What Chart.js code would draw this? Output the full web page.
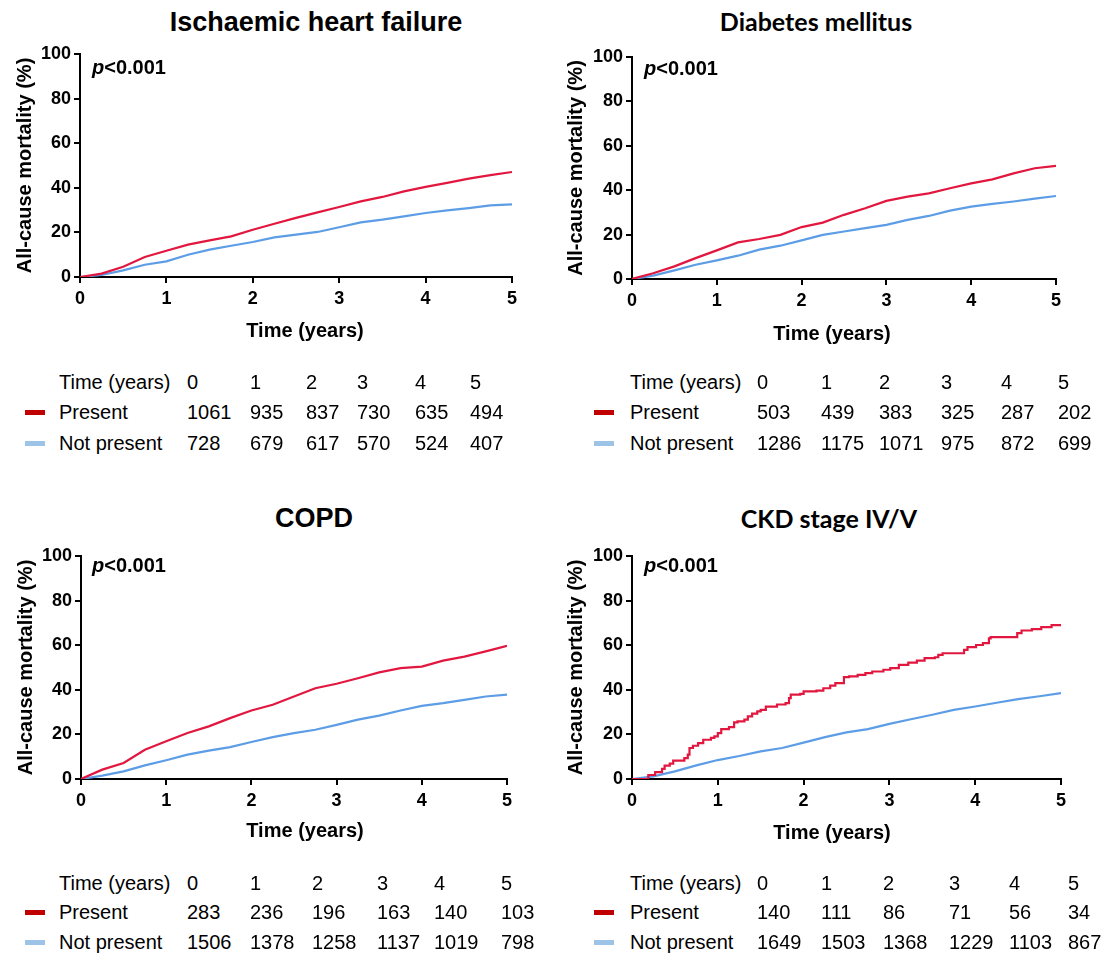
<!DOCTYPE html>
<html>
<head>
<meta charset="utf-8">
<script src="https://cdn.jsdelivr.net/npm/chart.js@4.4.1/dist/chart.umd.min.js"></script>
<style>
  html, body { margin: 0; padding: 0; background: #fff; }
  #page { position: relative; width: 1103px; height: 954px; overflow: hidden;
          font-family: "Liberation Sans", Arial, sans-serif; color: #000; }
  .plot { position: absolute; }
  .title { position: absolute; transform: translate(-50%, -50%); white-space: nowrap;
           font-weight: bold; line-height: 1; }
  .cell { position: absolute; transform: translateY(-50%); white-space: nowrap;
          font-size: 20px; line-height: 1; }
  .key { position: absolute; width: 20px; height: 5px; }
</style>
</head>
<body>
<div id="page"></div>
<script>
// ---- follow-up grid (years) shared by the smooth curves ----
const quarterYears = [0, 0.25, 0.5, 0.75, 1, 1.25, 1.5, 1.75, 2, 2.25, 2.5,
                      2.75, 3, 3.25, 3.5, 3.75, 4, 4.25, 4.5, 4.75, 5];

// ---- cumulative all-cause mortality (%) ----
const ihfPresent    = [0, 1.5, 4.6, 9.0, 11.8, 14.5, 16.4, 18.2, 21.2, 23.9, 26.5,
                       29.0, 31.4, 33.9, 35.9, 38.4, 40.4, 42.2, 44.1, 45.7, 47.1];
const ihfNotPresent = [0, 0.9, 3.0, 5.5, 7.0, 10.0, 12.3, 14.0, 15.7, 17.8, 19.0,
                       20.2, 22.3, 24.5, 25.7, 27.2, 28.7, 29.9, 30.9, 32.1, 32.6];

const dmPresent     = [0, 2.6, 5.7, 9.4, 12.9, 16.5, 18.0, 19.9, 23.4, 25.4, 28.9,
                       31.9, 35.2, 37.1, 38.6, 40.9, 43.1, 44.9, 47.6, 49.9, 51.0];
const dmNotPresent  = [0, 1.5, 3.9, 6.4, 8.4, 10.5, 13.2, 15.0, 17.4, 19.9, 21.4,
                       22.9, 24.4, 26.6, 28.4, 30.8, 32.6, 33.8, 34.9, 36.2, 37.4];

const copdPresent    = [0, 4.2, 7.2, 13.1, 16.9, 20.6, 23.6, 27.3, 30.7, 33.3, 37.0,
                        40.7, 42.7, 45.2, 47.8, 49.7, 50.4, 53.1, 54.9, 57.2, 59.7];
const copdNotPresent = [0, 1.5, 3.4, 6.1, 8.4, 10.9, 12.7, 14.3, 16.6, 18.8, 20.6,
                        22.1, 24.3, 26.6, 28.4, 30.7, 32.8, 34.0, 35.5, 37.0, 37.8];

// CKD IV/V "present" group is small, so its curve keeps its event steps
const ckdPresentYears = [0, 0.12, 0.19, 0.27, 0.35, 0.38, 0.44, 0.48, 0.61, 0.65, 0.67,
                         0.71, 0.77, 0.83, 0.92, 0.96, 1.0, 1.04, 1.13, 1.19, 1.23, 1.31,
                         1.35, 1.40, 1.46, 1.5, 1.56, 1.69, 1.79, 1.83, 1.85, 1.96, 2.0,
                         2.15, 2.23, 2.31, 2.37, 2.47, 2.53, 2.63, 2.72, 2.80, 2.93, 3.01,
                         3.11, 3.22, 3.32, 3.41, 3.53, 3.57, 3.62, 3.87, 3.91, 4.01, 4.09,
                         4.16, 4.18, 4.49, 4.54, 4.66, 4.77, 4.89, 5.0];
const ckdPresent = [0, 0, 1.8, 3.1, 4.5, 6.0, 6.9, 8.2, 9.4, 10.9, 13.9,
                    14.9, 16.1, 17.6, 18.4, 19.1, 20.6, 22.4, 23.3, 25.4, 25.8, 26.6,
                    28.1, 29.3, 30.3, 31.0, 32.5, 33.4, 34.0, 36.3, 37.8, 38.2, 39.3,
                    39.6, 40.7, 41.9, 43.0, 45.7, 46.0, 46.7, 47.5, 48.2, 49.0, 49.7,
                    51.2, 52.2, 53.1, 54.2, 54.6, 55.7, 56.4, 57.9, 59.1, 60.1, 60.9,
                    63.1, 63.6, 65.4, 66.6, 67.2, 68.1, 69.0, 69.1];
const ckdNotPresent = [0, 1.2, 3.4, 6.1, 8.5, 10.3, 12.4, 13.9, 16.3, 18.8, 20.9,
                       22.4, 24.7, 26.8, 28.8, 31.0, 32.5, 34.2, 35.8, 37.1, 38.5];

// ---- numbers at risk ----
const riskYears = ['0', '1', '2', '3', '4', '5'];
const ihfAtRiskPresent     = [1061, 935, 837, 730, 635, 494];
const ihfAtRiskNotPresent  = [728, 679, 617, 570, 524, 407];
const dmAtRiskPresent      = [503, 439, 383, 325, 287, 202];
const dmAtRiskNotPresent   = [1286, 1175, 1071, 975, 872, 699];
const copdAtRiskPresent    = [283, 236, 196, 163, 140, 103];
const copdAtRiskNotPresent = [1506, 1378, 1258, 1137, 1019, 798];
const ckdAtRiskPresent     = [140, 111, 86, 71, 56, 34];
const ckdAtRiskNotPresent  = [1649, 1503, 1368, 1229, 1103, 867];

const pValueText = '<0.001';
const RED = '#E2173F', BLUE = '#5C9DE6';
const KEY_RED = '#C00000', KEY_BLUE = '#9DC3E6';
const ARIAL = '"Liberation Sans", Arial, sans-serif';
const CALIBRI_LIKE = 'Lato, "Open Sans", sans-serif';

const toPoints = (xs, ys) => xs.map((x, i) => ({ x, y: ys[i] }));

// "p<0.001" in the top-left corner of the plotting area
const pValuePlugin = {
  id: 'pValue',
  afterDraw(chart, args, opts) {
    const { ctx, chartArea } = chart;
    ctx.save();
    ctx.fillStyle = '#000';
    ctx.textBaseline = 'middle';
    let x = chartArea.left + opts.dx;
    const y = chartArea.top + opts.dy;
    ctx.font = 'italic bold 20px ' + ARIAL;
    ctx.fillText('p', x, y);
    x += ctx.measureText('p').width;
    ctx.font = 'bold 20px ' + ARIAL;
    ctx.fillText(pValueText, x, y);
    ctx.restore();
  }
};

const panels = [
  { title: 'Ischaemic heart failure', titleFont: ARIAL, titleSize: 27, titleX: 316, titleY: 22,
    left: 0, top: 40, yAxisW: 80, padTop: 14, padRight: 18, xAxisH: 83, yTitlePad: 13,
    xTitleX: 305, xTitleY: 330, pdx: 12, pdy: 14,
    present: toPoints(quarterYears, ihfPresent), notPresent: toPoints(quarterYears, ihfNotPresent), stepped: false,
    riskPresent: ihfAtRiskPresent, riskNotPresent: ihfAtRiskNotPresent,
    keyX: 25, labelX: 59, cols: [187, 250, 306, 357, 415, 470], rows: [382, 412, 443] },
  { title: 'Diabetes mellitus', titleFont: CALIBRI_LIKE, titleSize: 25, titleX: 816, titleY: 21,
    left: 550, top: 40, yAxisW: 82, padTop: 17, padRight: 24, xAxisH: 81, yTitlePad: 14,
    xTitleX: 832, xTitleY: 333, pdx: 12, pdy: 12,
    present: toPoints(quarterYears, dmPresent), notPresent: toPoints(quarterYears, dmNotPresent), stepped: false,
    riskPresent: dmAtRiskPresent, riskNotPresent: dmAtRiskNotPresent,
    keyX: 594, labelX: 630, cols: [757, 821, 879, 941, 1001, 1058], rows: [382, 412, 443] },
  { title: 'COPD', titleFont: ARIAL, titleSize: 27, titleX: 314, titleY: 518,
    left: 0, top: 540, yAxisW: 81, padTop: 16, padRight: 23, xAxisH: 81, yTitlePad: 14,
    xTitleX: 305, xTitleY: 830, pdx: 11, pdy: 10,
    present: toPoints(quarterYears, copdPresent), notPresent: toPoints(quarterYears, copdNotPresent), stepped: false,
    riskPresent: copdAtRiskPresent, riskNotPresent: copdAtRiskNotPresent,
    keyX: 25, labelX: 59, cols: [187, 250, 312, 377, 434, 501], rows: [883, 912, 942] },
  { title: 'CKD stage IV/V', titleFont: CALIBRI_LIKE, titleSize: 25, titleX: 829, titleY: 518,
    left: 550, top: 540, yAxisW: 82, padTop: 16, padRight: 19, xAxisH: 81, yTitlePad: 14,
    xTitleX: 832, xTitleY: 832, pdx: 12, pdy: 10,
    present: toPoints(ckdPresentYears, ckdPresent), notPresent: toPoints(quarterYears, ckdNotPresent), stepped: true,
    riskPresent: ckdAtRiskPresent, riskNotPresent: ckdAtRiskNotPresent,
    keyX: 594, labelX: 630, cols: [757, 821, 883, 949, 1009, 1068], rows: [883, 912, 942] }
];

const page = document.getElementById('page');
const CANVAS_W = 530, CANVAS_H = 320;

function addText(text, x, y, cls, style) {
  const el = document.createElement('div');
  el.className = cls;
  el.textContent = text;
  el.style.left = x + 'px';
  el.style.top = y + 'px';
  Object.assign(el.style, style || {});
  page.appendChild(el);
  return el;
}

function addKey(x, y, color) {
  const el = document.createElement('div');
  el.className = 'key';
  el.style.left = x + 'px';
  el.style.top = (y - 2.5) + 'px';
  el.style.background = color;
  page.appendChild(el);
}

const tickFont = { family: ARIAL, size: 18, weight: 'bold' };
const axisTitleFont = { family: ARIAL, size: 20, weight: 'bold' };

panels.forEach(p => {
  // panel heading
  addText(p.title, p.titleX, p.titleY, 'title', { fontFamily: p.titleFont, fontSize: p.titleSize + 'px' });

  // survival curves
  const canvas = document.createElement('canvas');
  canvas.className = 'plot';
  canvas.width = CANVAS_W; canvas.height = CANVAS_H;
  canvas.style.left = p.left + 'px'; canvas.style.top = p.top + 'px';
  canvas.style.width = CANVAS_W + 'px'; canvas.style.height = CANVAS_H + 'px';
  page.appendChild(canvas);

  new Chart(canvas, {
    type: 'line',
    data: {
      datasets: [
        { label: 'Present', data: p.present, borderColor: RED, borderWidth: 2.2,
          pointRadius: 0, tension: 0, stepped: p.stepped, fill: false },
        { label: 'Not present', data: p.notPresent, borderColor: BLUE, borderWidth: 2.2,
          pointRadius: 0, tension: 0, stepped: false, fill: false }
      ]
    },
    options: {
      responsive: false, animation: false, events: [],
      layout: { padding: { top: p.padTop, right: p.padRight, left: 0, bottom: 0 } },
      plugins: {
        legend: { display: false }, tooltip: { enabled: false }, title: { display: false },
        pValue: { dx: p.pdx, dy: p.pdy }
      },
      scales: {
        x: {
          type: 'linear', min: 0, max: 5,
          ticks: { stepSize: 1, font: tickFont, color: '#000', padding: 5 },
          grid: { drawOnChartArea: false, drawTicks: true, tickLength: 6, color: '#000', lineWidth: 2 },
          border: { display: true, color: '#000', width: 2 },
          title: { display: false },
          afterFit: s => { s.height = p.xAxisH; }
        },
        y: {
          type: 'linear', min: 0, max: 100,
          ticks: { stepSize: 20, font: tickFont, color: '#000', padding: 3 },
          grid: { drawOnChartArea: false, drawTicks: true, tickLength: 6, color: '#000', lineWidth: 2 },
          border: { display: true, color: '#000', width: 2 },
          title: { display: true, text: 'All-cause mortality (%)', font: axisTitleFont, color: '#000',
                   padding: { top: p.yTitlePad, bottom: 0 } },
          afterFit: s => { s.width = p.yAxisW; }
        }
      }
    },
    plugins: [pValuePlugin]
  });

  // x-axis caption
  addText('Time (years)', p.xTitleX, p.xTitleY, 'title', { fontFamily: ARIAL, fontSize: '20px' });

  // numbers-at-risk table
  addText('Time (years)', p.labelX, p.rows[0], 'cell');
  addText('Present', p.labelX, p.rows[1], 'cell');
  addText('Not present', p.labelX, p.rows[2], 'cell');
  addKey(p.keyX, p.rows[1], KEY_RED);
  addKey(p.keyX, p.rows[2], KEY_BLUE);
  p.cols.forEach((cx, i) => {
    addText(riskYears[i], cx, p.rows[0], 'cell');
    addText(String(p.riskPresent[i]), cx, p.rows[1], 'cell');
    addText(String(p.riskNotPresent[i]), cx, p.rows[2], 'cell');
  });
});
</script>
</body>
</html>
